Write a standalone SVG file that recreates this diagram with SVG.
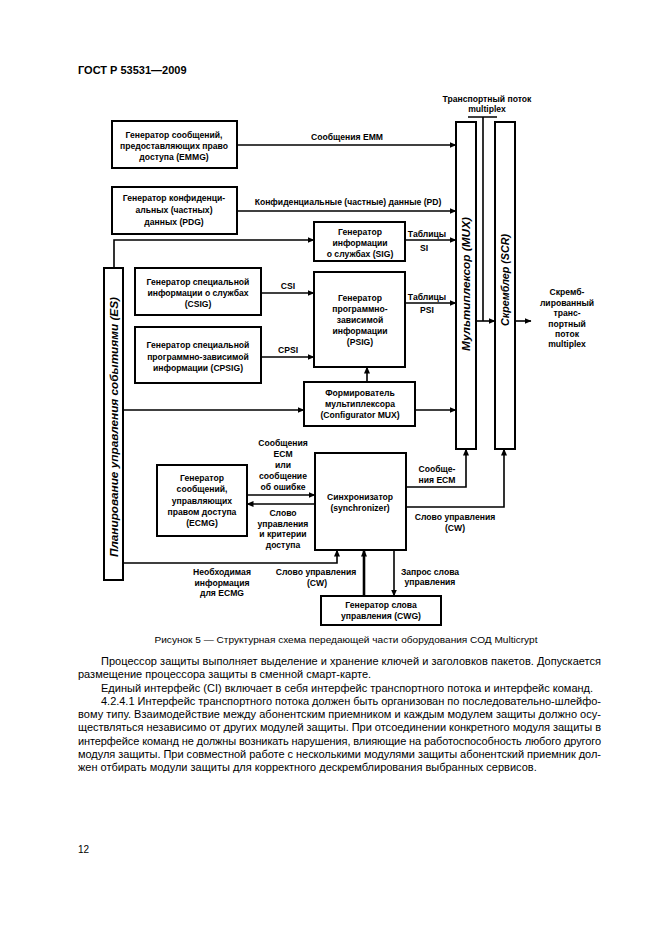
<svg xmlns="http://www.w3.org/2000/svg" width="661" height="935" viewBox="0 0 661 935">
<style>
text{font-family:"Liberation Sans",Arial,sans-serif;fill:#000}
.t{font-size:8.6px;font-weight:bold;text-anchor:middle}
.v{font-size:11px;font-weight:bold;font-style:italic;text-anchor:middle}
.box{fill:#fff;stroke:#000;stroke-width:2}
.c{fill:none;stroke:#000;stroke-width:1.6}
.body{font-size:11px}
.cap{font-size:9px;text-anchor:middle}
</style>
<defs>
<marker id="a" markerUnits="userSpaceOnUse" markerWidth="7" markerHeight="6" refX="6.5" refY="3" orient="auto">
<path d="M0,0 L7,3 L0,6 z" fill="#000"/>
</marker>
</defs>
<rect width="661" height="935" fill="#fff"/>
<text x="78" y="74" style="font-size:11px;font-weight:bold">ГОСТ Р 53531—2009</text>

<g id="connectors">
<path class="c" d="M237,145 H456" marker-end="url(#a)"/>
<path class="c" d="M237,211 H456" marker-end="url(#a)"/>
<path class="c" d="M114,268 V240 H314" marker-end="url(#a)"/>
<path class="c" d="M405,240 H456" marker-end="url(#a)"/>
<path class="c" d="M261,293 H314" marker-end="url(#a)"/>
<path class="c" d="M261,357 H314" marker-end="url(#a)"/>
<path class="c" d="M405,303 H456" marker-end="url(#a)"/>
<path class="c" d="M367,382 V367" marker-end="url(#a)"/>
<path class="c" d="M415,410 H456" marker-end="url(#a)"/>
<path class="c" d="M123,410 H304" marker-end="url(#a)"/>
<path class="c" d="M468,117 H497 M483,117 V321"/>
<path class="c" d="M476,321 H495" marker-end="url(#a)"/>
<path class="c" d="M515,321 H531" marker-end="url(#a)"/>
<path class="c" d="M247,495 H315" marker-end="url(#a)"/>
<path class="c" d="M315,504 H247" marker-end="url(#a)"/>
<path class="c" d="M406,487 H466 V449" marker-end="url(#a)"/>
<path class="c" d="M406,507 H504 V449" marker-end="url(#a)"/>
<path class="c" d="M123,563 H337 V550" marker-end="url(#a)"/>
<path class="c" d="M364,596 V550" marker-end="url(#a)" style="stroke-width:2.6"/>
<path class="c" d="M394,550 V596" marker-end="url(#a)"/>
</g>

<g id="labels">
<text class="t" x="347" y="140">Сообщения EMM</text>
<text class="t" x="348" y="205">Конфиденциальные (частные) данные (PD)</text>
<text class="t" x="427" y="237">Таблицы</text>
<text class="t" x="424" y="251">SI</text>
<text class="t" x="288" y="289">CSI</text>
<text class="t" x="288" y="353">CPSI</text>
<text class="t" x="427" y="300">Таблицы</text>
<text class="t" x="427" y="313">PSI</text>
<text class="t" x="487" y="102">Транспортный поток</text>
<text class="t" x="487" y="112">multiplex</text>
<text class="t" x="567" y="295">Скремб-</text>
<text class="t" x="567" y="306">лированный</text>
<text class="t" x="567" y="316">транс-</text>
<text class="t" x="567" y="327">портный</text>
<text class="t" x="567" y="337">поток</text>
<text class="t" x="567" y="347">multiplex</text>
<text class="t" x="283" y="446">Сообщения</text>
<text class="t" x="283" y="457">ECM</text>
<text class="t" x="283" y="468">или</text>
<text class="t" x="283" y="479">сообщение</text>
<text class="t" x="283" y="490">об ошибке</text>
<text class="t" x="283" y="516">Слово</text>
<text class="t" x="283" y="527">управления</text>
<text class="t" x="283" y="537">и критерии</text>
<text class="t" x="283" y="548">доступа</text>
<text class="t" x="437" y="472">Сообще-</text>
<text class="t" x="437" y="483">ния ECM</text>
<text class="t" x="455" y="520">Слово управления</text>
<text class="t" x="455" y="531">(CW)</text>
<text class="t" x="430" y="575">Запрос слова</text>
<text class="t" x="430" y="585">управления</text>
<text class="t" x="316" y="575">Слово управления</text>
<text class="t" x="317" y="586">(CW)</text>
<text class="t" x="222" y="575">Необходимая</text>
<text class="t" x="222" y="586">информация</text>
<text class="t" x="222" y="596">для ECMG</text>
</g>

<g id="emmg">
<rect class="box" x="112" y="121" width="125" height="47"/>
<text class="t" x="174" y="138">Генератор сообщений,</text>
<text class="t" x="174" y="149">предоставляющих право</text>
<text class="t" x="174" y="160">доступа (EMMG)</text>
</g>
<g id="pdg">
<rect class="box" x="112" y="187" width="125" height="47"/>
<text class="t" x="174" y="201">Генератор конфиденци-</text>
<text class="t" x="174" y="213">альных (частных)</text>
<text class="t" x="174" y="225">данных (PDG)</text>
</g>
<g id="sig">
<rect class="box" x="314" y="222" width="91" height="39"/>
<text class="t" x="360" y="235">Генератор</text>
<text class="t" x="360" y="246">информации</text>
<text class="t" x="360" y="257">о службах (SIG)</text>
</g>
<g id="csig">
<rect class="box" x="135" y="268" width="126" height="47"/>
<text class="t" x="198" y="285">Генератор специальной</text>
<text class="t" x="198" y="296">информации о службах</text>
<text class="t" x="198" y="307">(CSIG)</text>
</g>
<g id="cpsig">
<rect class="box" x="135" y="327" width="126" height="56"/>
<text class="t" x="198" y="348">Генератор специальной</text>
<text class="t" x="198" y="360">программно-зависимой</text>
<text class="t" x="198" y="371">информации (CPSIG)</text>
</g>
<g id="psig">
<rect class="box" x="314" y="272" width="91" height="95"/>
<text class="t" x="360" y="301">Генератор</text>
<text class="t" x="360" y="312">программно-</text>
<text class="t" x="360" y="323">зависимой</text>
<text class="t" x="360" y="334">информации</text>
<text class="t" x="360" y="345">(PSIG)</text>
</g>
<g id="config">
<rect class="box" x="304" y="382" width="111" height="44"/>
<text class="t" x="360" y="396">Формирователь</text>
<text class="t" x="360" y="407">мультиплексора</text>
<text class="t" x="360" y="418">(Configurator MUX)</text>
</g>
<g id="es">
<rect class="box" x="104" y="268" width="19" height="312"/>
<text class="v" transform="translate(117.5,427) rotate(-90)" textLength="260" lengthAdjust="spacingAndGlyphs">Планирование управления событиями (ES)</text>
</g>
<g id="mux">
<rect class="box" x="456" y="122" width="20" height="327"/>
<text class="v" transform="translate(470,284) rotate(-90)" textLength="134" lengthAdjust="spacingAndGlyphs">Мультиплексор (MUX)</text>
</g>
<g id="scr">
<rect class="box" x="495" y="122" width="20" height="327"/>
<text class="v" transform="translate(509,280) rotate(-90)" textLength="92" lengthAdjust="spacingAndGlyphs">Скремблер (SCR)</text>
</g>
<g id="ecmg">
<rect class="box" x="157" y="465" width="90" height="71"/>
<text class="t" x="202" y="481">Генератор</text>
<text class="t" x="202" y="492">сообщений,</text>
<text class="t" x="202" y="504">управляющих</text>
<text class="t" x="202" y="515">правом доступа</text>
<text class="t" x="202" y="526">(ECMG)</text>
</g>
<g id="sync">
<rect class="box" x="315" y="453" width="91" height="97"/>
<text class="t" x="360" y="500">Синхронизатор</text>
<text class="t" x="360" y="511">(synchronizer)</text>
</g>
<g id="cwg">
<rect class="box" x="321" y="596" width="120" height="29"/>
<text class="t" x="381" y="608">Генератор слова</text>
<text class="t" x="381" y="619">управления (CWG)</text>
</g>

<text class="cap" x="346" y="643" textLength="383" lengthAdjust="spacingAndGlyphs">Рисунок 5 — Структурная схема передающей части оборудования СОД Multicrypt</text>
<g>
<text class="body" x="101" y="665" textLength="500" lengthAdjust="spacing">Процессор защиты выполняет выделение и хранение ключей и заголовков пакетов. Допускается</text>
<text class="body" x="78" y="678">размещение процессора защиты в сменной смарт-карте.</text>
<text class="body" x="101" y="692">Единый интерфейс (CI) включает в себя интерфейс транспортного потока и интерфейс команд.</text>
<text class="body" x="101" y="705" textLength="500" lengthAdjust="spacing">4.2.4.1 Интерфейс транспортного потока должен быть организован по последовательно-шлейфо-</text>
<text class="body" x="78" y="718" textLength="523" lengthAdjust="spacing">вому типу. Взаимодействие между абонентским приемником и каждым модулем защиты должно осу-</text>
<text class="body" x="78" y="731" textLength="523" lengthAdjust="spacing">ществляться независимо от других модулей защиты. При отсоединении конкретного модуля защиты в</text>
<text class="body" x="78" y="745" textLength="523" lengthAdjust="spacing">интерфейсе команд не должны возникать нарушения, влияющие на работоспособность любого другого</text>
<text class="body" x="78" y="758" textLength="523" lengthAdjust="spacing">модуля защиты. При совместной работе с несколькими модулями защиты абонентский приемник дол-</text>
<text class="body" x="78" y="771">жен отбирать модули защиты для корректного дескремблирования выбранных сервисов.</text>
</g>
<text x="78" y="853" style="font-size:10px">12</text>
</svg>
